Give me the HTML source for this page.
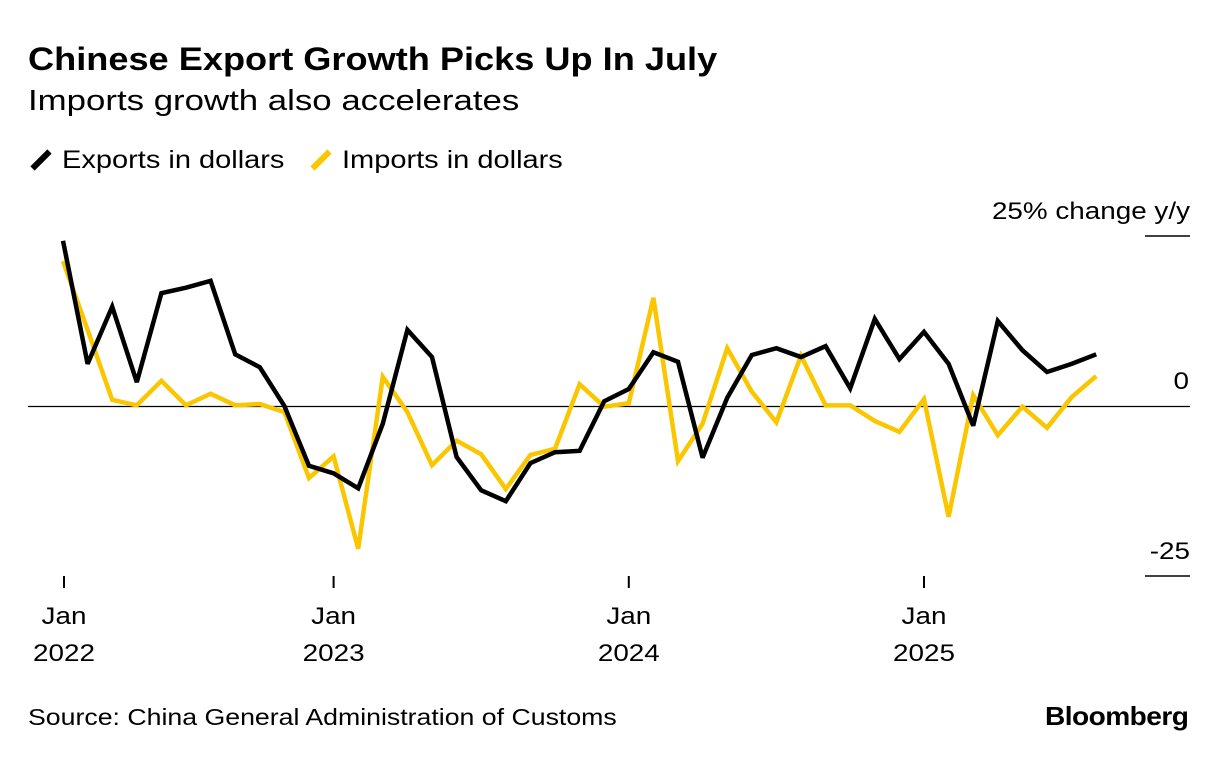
<!DOCTYPE html>
<html><head><meta charset="utf-8"><style>
body{margin:0;background:#fff;font-family:"Liberation Sans",sans-serif;}
#wrap{position:relative;width:1223px;height:760px;overflow:hidden}
.t{position:absolute;color:#000;white-space:nowrap;transform-origin:0 0}
</style></head><body><div id="wrap">
<div class="t" style="left:28px;top:41px;font-size:32px;font-weight:bold;transform:scaleX(1.13)">Chinese Export Growth Picks Up In July</div>
<div class="t" style="left:28px;top:85px;font-size:29px;transform:scaleX(1.2)">Imports growth also accelerates</div>
<div class="t" style="left:30px;top:146px;font-size:25px"><span style="display:inline-block;width:6px;height:24px;background:#000;transform:rotate(45deg);margin:0 18px -4px 8px"></span><span style="display:inline-block;transform:scaleX(1.16);transform-origin:0 0">Exports in dollars</span></div>
<div class="t" style="left:310px;top:146px;font-size:25px"><span style="display:inline-block;width:6px;height:24px;background:#f9c600;transform:rotate(45deg);margin:0 18px -4px 8px"></span><span style="display:inline-block;transform:scaleX(1.16);transform-origin:0 0">Imports in dollars</span></div>
<div class="t" style="left:28px;top:704px;font-size:23px;transform:scaleX(1.16)">Source: China General Administration of Customs</div>
<div class="t" style="left:1045px;top:701px;font-size:26px;font-weight:bold;letter-spacing:-0.5px;transform:scaleX(1.08)">Bloomberg</div>
<svg id="chart" width="1223" height="760" style="position:absolute;left:0;top:0"></svg>
</div>
<script>
const exportsVals=[24.3,6.2,14.6,3.5,16.6,17.4,18.4,7.6,5.7,0,-8.8,-9.9,-12.1,-2.6,11.2,7.2,-7.5,-12.4,-14,-8.4,-6.8,-6.6,0.7,2.5,7.9,6.5,-7.6,1.2,7.5,8.5,7.2,8.8,2.6,12.8,6.9,10.9,6.2,-2.9,12.5,8.2,5.0,6.2,7.6];
const importsVals=[21.3,11.2,0.9,0.1,3.7,0.1,1.8,0.1,0.3,-0.9,-10.6,-7.4,-21,4.3,-0.9,-8.7,-5.1,-7.1,-12.2,-7.2,-6.3,3.2,-0.1,0.4,15.9,-8.1,-2.6,8.5,2.1,-2.4,7.4,0.1,0.1,-2.2,-3.8,1.0,-16.3,1.6,-4.3,-0.1,-3.2,1.3,4.4];
const tickIdx=[0,11,23,35];
const tickYears=["2022","2023","2024","2025"];
const yTicks=[25,0,-25];
const NS="http://www.w3.org/2000/svg";
const svg=document.getElementById('chart');
const x=i=>63+i*24.6;
const y=v=>406-v*6.8;
function el(t,a){const e=document.createElementNS(NS,t);for(const k in a)e.setAttribute(k,a[k]);svg.appendChild(e);return e;}
function txt(str,tx,ty,anchor){
  const t=el('text',{x:0,y:0,'text-anchor':anchor,'font-size':24,'font-family':'Liberation Sans',transform:'translate('+tx+','+ty+') scale(1.16,1)'});
  t.textContent=str;return t;
}
const zl=el('line',{x1:28,x2:1190,y1:y(0)+0.5,y2:y(0)+0.5,stroke:'#000','stroke-width':1.2});


yTicks.forEach(v=>{
  if(v!==0){const l=el('line',{x1:1145,x2:1190,y1:y(v),y2:y(v),stroke:'#000','stroke-width':1.5});
  
  }
  const t=txt(v===25?'25% change y/y':String(v),v===0?1189:1190,y(v)-17,'end');
  
  
});
tickIdx.forEach((ix,k)=>{
  const xx=x(ix)+(k===0?1:0);
  const l=el('line',{x1:xx,x2:xx,y1:576,y2:588,stroke:'#000','stroke-width':2});
  
  
  const t1=txt('Jan',xx,624,'middle');
  
  
  const t2=txt(tickYears[k],xx,661,'middle');
  
  
});
function line(vals,color,name){
  const p=el('polyline',{points:vals.map((v,i)=>x(i)+','+y(v)).join(' '),fill:'none',stroke:color,'stroke-width':4.5,'stroke-linejoin':'miter','stroke-miterlimit':3});
  
  
}
line(importsVals,'#f9c600','imports-line');
line(exportsVals,'#000','exports-line');
</script></body></html>
